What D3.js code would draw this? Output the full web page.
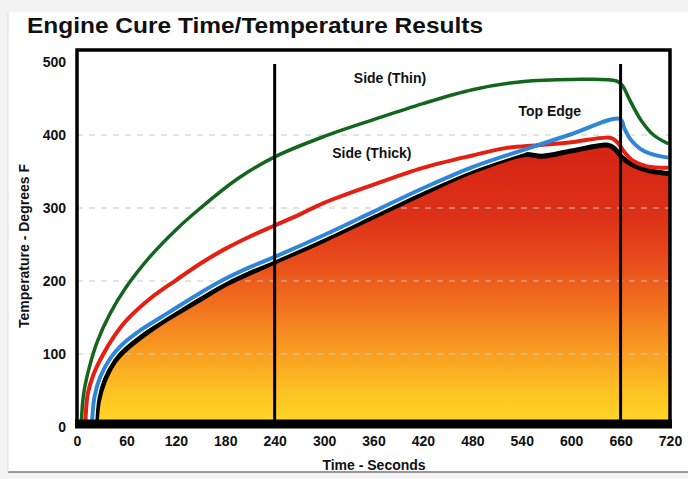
<!DOCTYPE html>
<html>
<head>
<meta charset="utf-8">
<script src="https://cdn.jsdelivr.net/npm/d3@7"></script>
<style>
  body { margin: 0; background: #f3f3f3; }
  text { font-family: "Liberation Sans", Arial, sans-serif; font-weight: bold; fill: #111; }
</style>
</head>
<body>
<div id="chart"></div>
<script>
// readings, [seconds, degrees F]
var sideThin = [[5,0],[8,45],[15,82],[25,118],[40,155],[60,192],[90,235],[120,270],[150,300],[195,340],[240,370],[300,398],[360,421],[420,443],[480,462],[540,473],[600,476],[655,474],[662,468],[672,446],[685,420],[700,400],[718,388]];
var sideThick = [[10,0],[13,45],[20,72],[32,100],[45,124],[60,146],[90,177],[120,201],[150,224],[180,244],[210,261],[240,276],[270,291],[300,307],[360,332],[420,355],[480,372],[520,382],[560,386],[600,390],[648,396],[656,390],[665,376],[676,364],[692,357],[718,355]];
var topEdge = [[18,0],[21,40],[28,68],[41,95],[55,113],[75,131],[100,149],[120,163],[150,184],[180,203],[210,219],[240,233],[300,263],[360,295],[420,327],[480,356],[543,380],[600,401],[659,422],[665,408],[672,394],[684,381],[700,373],[718,369]];
var core = [[23,0],[26,35],[33,62],[46,90],[60,107],[80,125],[100,141],[120,155],[150,175],[180,195],[210,211],[240,226],[300,256],[360,288],[420,320],[480,350],[543,373],[565,371],[600,378],[645,386],[653,381],[662,369],[675,359],[695,351],[720,347]];

var xTicks = [0,60,120,180,240,300,360,420,480,540,600,660,720];
var yTicks = [0,100,200,300,400,500];
var gridValues = [100,200,300,400];
var phaseMarks = [240, 660];

var labels = [
    {text: "Side (Thin)", t: 380, v: 471},
    {text: "Side (Thick)", t: 358, v: 368},
    {text: "Top Edge", t: 574, v: 426}
];

var width = 688, height = 479;

var xScale = d3.scaleLinear().domain([0, 720]).range([77, 670]);
var yScale = d3.scaleLinear().domain([0, 500]).range([427, 62]);

var svg = d3.select("#chart").append("svg")
    .attr("width", width)
    .attr("height", height);

// panel
svg.append("rect").attr("x", 8).attr("y", 12).attr("width", 690).attr("height", 460)
    .attr("fill", "#fff");
svg.append("line").attr("x1", 8).attr("x2", 688).attr("y1", 472).attr("y2", 472)
    .attr("stroke", "#777").attr("stroke-width", 1.5);
svg.append("line").attr("x1", 8).attr("x2", 8).attr("y1", 12).attr("y2", 472)
    .attr("stroke", "#ddd").attr("stroke-width", 1);

var defs = svg.append("defs");
var grad = defs.append("linearGradient")
    .attr("id", "heat")
    .attr("gradientUnits", "userSpaceOnUse")
    .attr("x1", 0).attr("x2", 0)
    .attr("y1", yScale(0)).attr("y2", yScale(400));
var stops = [["0%","#ffd926"],["12%","#fdc223"],["27%","#f89a21"],["42%","#f2701f"],["57%","#e84c1c"],["72%","#dd3118"],["100%","#d42114"]];
stops.forEach(function(s) {
    grad.append("stop").attr("offset", s[0]).attr("stop-color", s[1]);
});

var smooth = d3.curveCatmullRom.alpha(0.5);

var line = d3.line()
    .x(function(d) { return xScale(d[0]); })
    .y(function(d) { return yScale(d[1]); })
    .curve(smooth);

var area = d3.area()
    .x(function(d) { return xScale(d[0]); })
    .y0(yScale(0))
    .y1(function(d) { return yScale(d[1]); })
    .curve(smooth);

svg.append("path").datum(core).attr("d", area).attr("fill", "url(#heat)");

svg.selectAll(".grid")
    .data(gridValues)
    .enter().append("line")
    .attr("class", "grid")
    .attr("x1", xScale(0)).attr("x2", xScale(720))
    .attr("y1", function(d) { return yScale(d); })
    .attr("y2", function(d) { return yScale(d); })
    .attr("stroke", "#c8c8c8")
    .attr("stroke-width", 1)
    .attr("stroke-dasharray", "6,6");

// curves
svg.append("path").datum(core).attr("d", line)
    .attr("style", "fill: none; stroke: #000; stroke-width: 5;");
svg.append("path").datum(topEdge).attr("d", line)
    .attr("style", "fill: none; stroke: #fff; stroke-width: 6.5;");
svg.append("path").datum(sideThick).attr("d", line)
    .attr("style", "fill: none; stroke: #e51f12; stroke-width: 4;");
svg.append("path").datum(topEdge).attr("d", line)
    .attr("style", "fill: none; stroke: #2f86d8; stroke-width: 4;");
svg.append("path").datum(sideThin).attr("d", line)
    .attr("style", "fill: none; stroke: #14661e; stroke-width: 3.5;");

svg.selectAll(".phase")
    .data(phaseMarks)
    .enter().append("line")
    .attr("class", "phase")
    .attr("x1", function(d) { return xScale(d); })
    .attr("x2", function(d) { return xScale(d); })
    .attr("y1", yScale(500) + 2).attr("y2", yScale(0))
    .attr("stroke", "#000").attr("stroke-width", 3);

// frame
svg.append("path")
    .attr("d", "M" + xScale(0) + "," + yScale(0) + "V50H" + xScale(720) + "V" + yScale(0))
    .attr("fill", "none").attr("stroke", "#000").attr("stroke-width", 3.5);
svg.append("line")
    .attr("x1", xScale(0) - 2).attr("x2", xScale(720) + 2)
    .attr("y1", yScale(0) - 3).attr("y2", yScale(0) - 3)
    .attr("stroke", "#000").attr("stroke-width", 9);

svg.selectAll(".lbl")
    .data(labels)
    .enter().append("text")
    .attr("class", "lbl")
    .attr("x", function(d) { return xScale(d.t); })
    .attr("y", function(d) { return yScale(d.v); })
    .attr("text-anchor", "middle")
    .attr("font-size", 14)
    .text(function(d) { return d.text; });

// axes
var xAxis = svg.append("g")
    .attr("transform", "translate(0," + yScale(0) + ")")
    .call(d3.axisBottom(xScale).tickValues(xTicks).tickSize(0).tickPadding(9));
var yAxis = svg.append("g")
    .attr("transform", "translate(" + (xScale(0) - 1) + ",0)")
    .call(d3.axisLeft(yScale).tickValues(yTicks).tickSize(0).tickPadding(10));
[xAxis, yAxis].forEach(function(g) {
    g.select(".domain").remove();
    g.selectAll("text")
        .attr("font-size", 14)
        .attr("font-family", "Liberation Sans, Arial, sans-serif")
        .attr("font-weight", "bold")
        .attr("fill", "#111");
});

svg.append("text")
    .attr("x", 27).attr("y", 33)
    .attr("font-size", 22)
    .attr("textLength", 456)
    .attr("lengthAdjust", "spacingAndGlyphs")
    .text("Engine Cure Time/Temperature Results");

svg.append("text")
    .attr("x", 374).attr("y", 470)
    .attr("text-anchor", "middle")
    .attr("font-size", 14)
    .text("Time - Seconds");

svg.append("text")
    .attr("transform", "translate(29,246) rotate(-90)")
    .attr("text-anchor", "middle")
    .attr("font-size", 14)
    .text("Temperature - Degrees F");
</script>
</body>
</html>
